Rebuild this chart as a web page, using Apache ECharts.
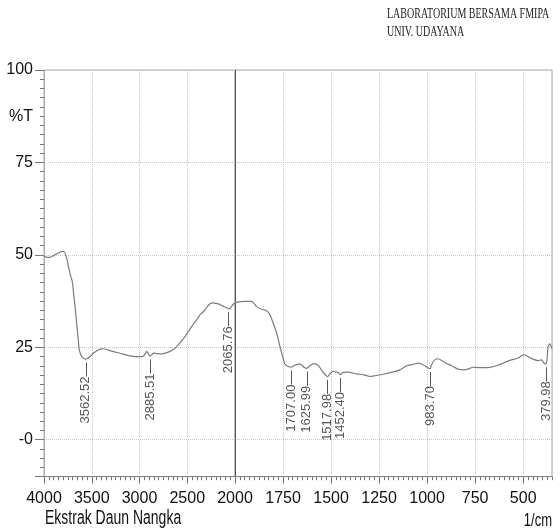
<!DOCTYPE html>
<html><head><meta charset="utf-8">
<script src="https://cdn.jsdelivr.net/npm/echarts@6/dist/echarts.min.js"></script>
<style>html,body{margin:0;padding:0;background:#fff}#c{width:560px;height:529px}</style>
</head><body><div id="c"></div>
<script>
// Spectrum, 4000-2000 1/cm (half scale part)
const leftWn = [4000,3960,3937,3900,3850,3815,3790,3762,3745,3728,3704,3690,3675,3651,3630,3605,3571,3550,3536,3510,3484,3450,3414,3379,3340,3309,3250,3204,3150,3100,3050,2995,2960,2935,2925,2910,2890,2870,2855,2820,2768,2720,2681,2640,2611,2570,2524,2490,2454,2420,2401,2367,2340,2314,2290,2262,2235,2210,2180,2157,2130,2105,2080,2066,2053,2030,2007,2000];
const leftT  = [49.6,49.3,49.3,49.8,50.5,50.9,50.9,49.1,47.0,45.0,42.8,39.5,36.0,29.7,24.3,22.5,21.8,21.9,22.1,22.7,23.4,24.0,24.5,24.6,24.4,24.1,23.7,23.4,23.0,22.7,22.5,22.5,22.6,23.5,23.9,23.4,22.6,23.0,23.4,23.3,23.2,23.5,23.9,24.5,25.2,26.4,27.9,29.2,30.6,31.8,32.4,33.8,34.4,35.1,36.0,36.8,37.0,36.9,36.8,36.5,36.2,35.9,35.6,35.4,35.5,36.3,36.9,37.0];
// Spectrum, 2000-350 1/cm
const rightWn = [2000,1980,1950,1913,1887,1861,1835,1818,1801,1783,1766,1752,1740,1723,1707,1690,1679,1662,1641,1626,1610,1590,1567,1541,1523,1518,1506,1489,1475,1463,1452,1437,1411,1367,1333,1298,1272,1229,1185,1142,1107,1073,1047,1021,995,984,977,960,943,908,873,839,813,787,761,726,683,639,605,561,527,496,475,449,423,405,391,380,370,361,352,350];
const rightT  = [37.0,37.3,37.4,37.4,36.0,35.3,34.9,33.8,31.5,28.8,25.2,22.5,20.5,19.8,19.6,20.1,20.3,20.5,19.6,19.3,20.0,20.6,20.1,18.2,17.2,17.1,17.8,18.5,18.3,18.2,17.6,18.2,18.3,17.8,17.6,17.1,17.3,17.7,18.2,18.9,20.0,20.4,20.7,20.3,19.4,19.2,20.3,21.6,21.9,20.9,20.0,19.1,18.9,19.1,19.6,19.5,19.5,20.0,20.7,21.6,22.1,23.0,22.5,21.8,21.4,21.6,20.7,20.5,25.2,25.9,24.8,24.6];
// Peak annotations
const peakWn = [3562.52,2885.51,2065.76,1707.00,1625.99,1517.98,1452.40,983.70,379.98];
const peakT  = [21.8,22.6,35.4,19.6,19.3,17.1,17.6,19.2,20.5];
// Y tick labels
const yLabelValues = [100,87.5,75,50,25,0];
const yLabelTexts  = ['100','%T','75','50','25','-0'];

const SANS = "'Liberation Sans',Arial,sans-serif";
const CURVE = '#7c7c7c';
const GRIDC = '#c4c4c4';

const pairs = (ws, ts) => ws.map((w, i) => [-w, ts[i]]);
const peaksL = [], peaksR = [];
peakWn.forEach((w, i) => { (w > 2000 ? peaksL : peaksR).push([w, peakT[i]]); });

function yLabel(v) {
  const i = yLabelValues.findIndex(x => Math.abs(x - v) < 1e-6);
  return i >= 0 ? yLabelTexts[i] : '';
}

function peakSeries(list, gi) {
  return {
    type: 'scatter', xAxisIndex: gi * 2, yAxisIndex: gi * 2,
    symbolSize: 1, itemStyle: { color: 'rgba(0,0,0,0)' }, silent: true,
    data: list.map(p => [-p[0], p[1] - 4.7, p[0].toFixed(2)]),
    label: { show: true, position: 'inside', rotate: 90, align: 'right', verticalAlign: 'middle',
      formatter: p => p.data[2], fontSize: 13, fontFamily: SANS, color: '#2a2a2a' },
    markLine: { silent: true, symbol: ['none', 'none'], animation: false, label: { show: false },
      lineStyle: { color: '#555', width: 1, type: 'solid' },
      data: list.map(p => [{ coord: [-p[0], p[1] - 0.9] }, { coord: [-p[0], p[1] - 4.7] }]) }
  };
}

const baseX = (gi, min, max, interval) => ({
  type: 'value', gridIndex: gi, position: 'bottom', min, max, interval,
  axisLine: { show: true, onZero: false, lineStyle: { color: '#888' } },
  axisTick: { show: true, length: 7, lineStyle: { color: '#777' } },
  axisLabel: { formatter: v => String(-v), fontSize: 16, fontFamily: SANS, color: '#111', margin: 14 },
  splitLine: { show: true, lineStyle: { color: GRIDC, type: 'dotted' } }
});
const minorX = (gi, min, max, interval) => ({
  type: 'value', gridIndex: gi, position: 'bottom', min, max, interval,
  axisLine: { show: false, onZero: false }, axisLabel: { show: false }, splitLine: { show: false },
  axisTick: { show: true, length: 3.5, lineStyle: { color: '#777' } }
});

const chart = echarts.init(document.getElementById('c'), null, { renderer: 'canvas' });
const xl = baseX(0, -4000, -2000, 500);
const xr = baseX(1, -2000, -350, 250);
xr.axisLabel.showMinLabel = false; xr.axisLabel.showMaxLabel = false;
chart.setOption({
  animation: false,
  backgroundColor: '#fff',
  grid: [
    { left: 44, top: 70, width: 191, bottom: 52.3, show: true, borderColor: '#aaa', borderWidth: 1 },
    { left: 235, top: 70, right: 8, bottom: 52.3, show: true, borderColor: '#aaa', borderWidth: 1 }
  ],
  xAxis: [xl, minorX(0, -4000, -2000, 50), xr, minorX(1, -2000, -350, 25)],
  yAxis: [
    { type: 'value', gridIndex: 0, min: -10, max: 100, interval: 2.5,
      axisLine: { show: true, onZero: false, lineStyle: { color: '#aaa' } },
      axisTick: { show: true, length: 4, lineStyle: { color: '#777' } },
      axisLabel: { formatter: yLabel, fontSize: 16, fontFamily: SANS, color: '#111', margin: 11 },
      splitLine: { show: false } },
    { type: 'value', gridIndex: 0, min: -100, max: 10, interval: 25, inverse: true, position: 'left',
      axisLine: { show: false, onZero: false }, axisLabel: { show: false },
      axisTick: { show: true, length: 9, lineStyle: { color: '#777' } },
      splitLine: { show: true, lineStyle: { color: GRIDC, type: 'dotted' } } },
    { type: 'value', gridIndex: 1, min: -10, max: 100, position: 'left',
      axisLine: { show: true, onZero: false, lineStyle: { color: '#555' } },
      axisTick: { show: false }, axisLabel: { show: false }, splitLine: { show: false } },
    { type: 'value', gridIndex: 1, min: -100, max: 10, interval: 25, inverse: true, position: 'left',
      axisLine: { show: false, onZero: false }, axisLabel: { show: false }, axisTick: { show: false },
      splitLine: { show: true, lineStyle: { color: GRIDC, type: 'dotted' } } }
  ],
  series: [
    { type: 'line', xAxisIndex: 0, yAxisIndex: 0, data: pairs(leftWn, leftT), showSymbol: false,
      smooth: 0.2, lineStyle: { color: CURVE, width: 1.2 }, silent: true },
    { type: 'line', xAxisIndex: 2, yAxisIndex: 2, data: pairs(rightWn, rightT), showSymbol: false,
      smooth: 0.2, lineStyle: { color: CURVE, width: 1.2 }, silent: true },
    peakSeries(peaksL, 0),
    peakSeries(peaksR, 1)
  ],
  graphic: [
    { type: 'text', x: 387, y: 7, scaleY: 1.4, style: { text: 'LABORATORIUM BERSAMA FMIPA', font: "10px 'Liberation Serif', serif", fill: '#222' } },
    { type: 'text', x: 387, y: 25, scaleY: 1.4, style: { text: 'UNIV. UDAYANA', font: "10px 'Liberation Serif', serif", fill: '#222' } },
    { type: 'text', x: 45, y: 509, scaleY: 1.4, style: { text: 'Ekstrak Daun Nangka', font: "14px " + SANS, fill: '#111' } },
    { type: 'text', x: 552, y: 511, scaleY: 1.45, style: { text: '1/cm', font: "13px " + SANS, fill: '#111', align: 'right' } }
  ]
});
</script></body></html>
